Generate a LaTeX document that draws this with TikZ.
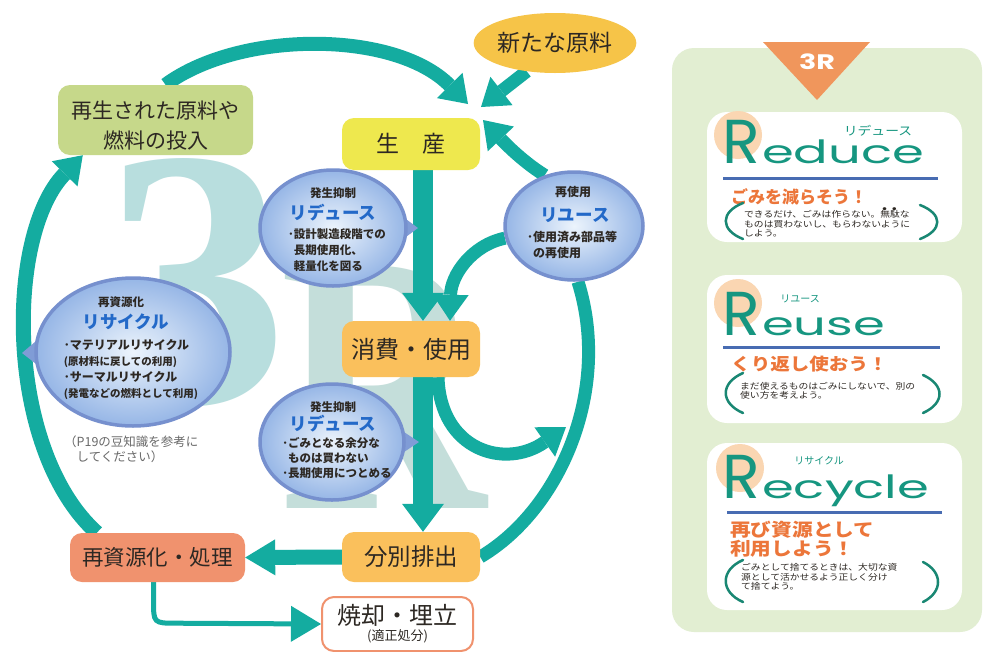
\documentclass[tikz,border=0pt]{standalone}
\usepackage{fontspec}
\setmainfont{Noto Sans CJK JP}
\newfontfamily\jpwide[FakeStretch=1.15]{Noto Sans CJK JP}
\newfontfamily\latw[FakeStretch=1.6]{Poppins}
\newfontfamily\latR{Poppins}
\newfontfamily\serifb{Liberation Serif}
\usetikzlibrary{arrows.meta,shapes.geometric,calc}
\pgfdeclarelayer{back}
\pgfdeclarelayer{bg}
\pgfsetlayers{back,bg,main}
\newcommand\fsz[2]{\fontsize{#1}{#2}\selectfont}
\newcommand\boutenjp[1]{\leavevmode\makebox[0pt][l]{\makebox[1em][c]{\raisebox{0.9em}[0pt][0pt]{\fontsize{3.5}{4}\selectfont ●}}}#1}
\definecolor{teal1}{RGB}{20,172,160}
\definecolor{cgreen}{RGB}{198,216,138}
\definecolor{cyellow}{RGB}{238,232,78}
\definecolor{clorange}{RGB}{250,192,92}
\definecolor{csalmon}{RGB}{240,146,110}
\definecolor{corange}{RGB}{246,196,72}
\definecolor{txt}{RGB}{45,40,35}
\definecolor{bedge}{RGB}{118,144,206}
\definecolor{bin}{RGB}{236,244,252}
\definecolor{bout}{RGB}{150,182,230}
\definecolor{bptr}{RGB}{128,156,214}
\definecolor{btitle}{RGB}{35,105,200}
\definecolor{panel}{RGB}{226,238,210}
\definecolor{torange}{RGB}{240,150,92}
\definecolor{peach}{RGB}{250,214,178}
\definecolor{rteal}{RGB}{22,150,128}
\definecolor{bline}{RGB}{72,108,178}
\definecolor{otext}{RGB}{236,118,58}
\definecolor{pteal}{RGB}{25,135,115}
\definecolor{wmc}{RGB}{184,222,222}
\definecolor{wmr}{RGB}{196,222,218}
\definecolor{note}{RGB}{105,105,105}
\begin{document}
\begin{tikzpicture}[x=1pt,y=1pt,
  box/.style={rounded corners=12pt, inner sep=0pt, align=center, text=txt},
  bubble/.style={ellipse, draw=bedge, line width=3.5pt, inner color=bin, outer color=bout, inner sep=0pt},
  bsmall/.style={font=\fsz{11.5}{12}\bfseries, text=txt, inner sep=0pt},
  bbig/.style={font=\fsz{17.5}{18}\bfseries, text=btitle, inner sep=0pt},
  bbody/.style={font=\fsz{11.5}{16}\bfseries, text=txt, align=left, inner sep=0pt},
  flow/.style={draw=teal1, line width=20pt, -{Triangle[length=28pt,width=42pt,line width=0pt]}},
  side/.style={draw=teal1, line width=15pt, -{Triangle[length=30pt,width=36pt,line width=0pt]}},
  curv/.style={draw=teal1, line width=14pt, -{Triangle[length=26pt,width=36pt,line width=0pt]}},
  thinarr/.style={draw=teal1, line width=5pt, -{Triangle[length=30pt,width=36pt,line width=0pt]}},
  wm/.style={font=\serifb\bfseries\fsz{370}{370}, inner sep=0pt},
  card/.style={fill=white, rounded corners=20pt, minimum width=255pt, inner sep=0pt},
  bigR/.style={font=\latR\fsz{62}{62}, text=rteal, inner sep=0pt, anchor=base west},
  restword/.style={font=\latw\fsz{32}{32}, text=rteal, inner sep=0pt, anchor=base west},
  kana/.style={text=rteal, inner sep=0pt},
  head/.style={text=otext, inner sep=0pt, anchor=west, align=left},
  cbody/.style={font=\jpwide\fsz{8.5}{9.4}, text=txt, inner sep=0pt, anchor=west, align=left},
  paren/.style={draw=pteal, line width=2.5pt, line cap=round},
  sep/.style={draw=bline, line width=3pt}
]
\useasboundingbox (0,0) rectangle (984,-651);

% ---------- background and watermark ----------
\begin{pgfonlayer}{back}
\fill[white] (0,0) rectangle (984,-651);
\node[wm, text=wmc, anchor=south west] (w3) at (103,-407) {3};
\node[wm, text=wmr, anchor=south west] (wR) at (280,-509) {\scalebox{0.77}[1]{R}};
\end{pgfonlayer}

% ---------- boxes ----------
\node[box, fill=cgreen, minimum width=195pt, minimum height=70pt] (inp) at (155.5,-120) {};
\node[font=\fsz{21}{30}, text=txt, align=center, inner sep=0pt] (inpt) at (155.5,-126) {再生された原料や\\燃料の投入};
\node[ellipse, fill=corange, minimum width=136pt, minimum height=60pt, inner sep=0pt, font=\fsz{23}{23}, text=txt] (newm) at (555,-43) {新たな原料};
\node[box, fill=cyellow, minimum width=138pt, minimum height=52pt, font=\fsz{23}{23}] (prod) at (411,-144) {生　産};
\node[box, fill=clorange, minimum width=138pt, minimum height=56pt, font=\fsz{24}{24}] (cons) at (411,-349) {消費・使用};
\node[box, fill=clorange, minimum width=138pt, minimum height=50pt, font=\fsz{23.5}{24}] (sort) at (411,-557) {分別排出};
\node[box, fill=csalmon, minimum width=175pt, minimum height=49pt, font=\fsz{21.5}{22}] (recy) at (157.5,-557.5) {再資源化・処理};
\node[box, fill=white, draw=csalmon, line width=2pt, minimum width=151pt, minimum height=54pt] (inc) at (397.5,-624) {{\fsz{24}{26}焼却・埋立}\\[2pt]{\fsz{13}{15}(適正処分)}};

% ---------- bubbles ----------
\node[bubble, minimum width=146pt, minimum height=116pt] (rd1) at (333,-228) {};
\node[bsmall] (rd1a) at (333,-193) {発生抑制};
\node[bbig] (rd1b) at (333,-213) {リデュース};
\node[bbody] (rd1c) at (337,-250) {･設計製造段階での\\\hphantom{･}長期使用化、\\\hphantom{･}軽量化を図る};

\node[bubble, minimum width=138pt, minimum height=108pt] (ru) at (574,-226) {};
\node[bsmall, font=\fsz{12}{12}\bfseries] (rua) at (573,-192) {再使用};
\node[bbig] (rub) at (575,-215) {リユース};
\node[bbody, font=\fsz{12}{16}\bfseries] (ruc) at (572,-245) {･使用済み部品等\\\hphantom{･}の再使用};

\node[bubble, minimum width=194pt, minimum height=148pt] (rc) at (133,-352) {};
\node[bsmall] (rca) at (121,-302) {再資源化};
\node[bbig] (rcb) at (126,-322) {リサイクル};
\node[bbody, font=\fsz{12}{15.7}\bfseries] (rcc) at (131,-369.5) {･マテリアルリサイクル\\{\fsz{10.5}{15.7}(原材料に戻しての利用)}\\･サーマルリサイクル\\{\fsz{10.5}{15.7}(発電などの燃料として利用)}};

\node[bubble, minimum width=144pt, minimum height=116pt] (rd2) at (332,-442) {};
\node[bsmall] (rd2a) at (333,-407) {発生抑制};
\node[bbig] (rd2b) at (333,-424) {リデュース};
\node[bbody, font=\fsz{11.5}{15}\bfseries] (rd2c) at (337,-458) {･ごみとなる余分な\\\hphantom{･}ものは買わない\\･長期使用につとめる};

\node[font=\fsz{12.5}{15}, text=note, align=left, inner sep=0pt, anchor=west] (hint) at (64,-449) {（P19の豆知識を参考に\\\hphantom{（}してください）};

% ---------- connectors ----------
\coordinate (tipA) at (468,-104);
\coordinate (tipB) at (481,-107);
\coordinate (tipC) at (483,-120);
\coordinate (tipD) at (566,-427);
\begin{pgfonlayer}{bg}
\draw[curv] ([xshift=10pt]inp.north) .. controls (240,-30) and (395,-30) .. (tipA);
\draw[curv, line width=13pt] (newm.225) -- (tipB);
\draw[curv, line width=13pt] (ru.120) .. controls (520,-160) and (500,-138) .. (tipC);
\draw[curv, line width=15pt] ([xshift=27pt]recy.north west) .. controls (5,-450) and (5,-235) .. ([xshift=25pt]inp.south west);
\draw[draw=teal1, line width=13pt] (sort.east) .. controls (560,-510) and (612,-390) .. ([xshift=4pt]ru.south);
\draw[curv, line width=13pt] (ru.190) .. controls (472,-245) and (451,-275) .. ([xshift=39pt]cons.north);
\draw[curv, line width=13pt] ([xshift=27pt]cons.south) .. controls (440,-450) and (505,-470) .. (tipD);
\draw[flow] ([xshift=12pt]prod.south) -- ([xshift=12pt]cons.north);
\draw[flow] ([xshift=12pt]cons.south) -- ([xshift=12pt]sort.north);
\draw[side] (sort.west) -- (recy.east);
\draw[thinarr] ([xshift=-4pt]recy.south) -- ++(0,-18) .. controls ++(0,-23) .. ++(23,-23) -- (inc.west);
% bubble pointers
\fill[bptr] ($(rd1.center)+(58,20)$) -- (418,-228) -- ($(rd1.center)+(58,-20)$) -- cycle;
\fill[bptr] ($(rd2.center)+(57,20)$) -- (419,-442) -- ($(rd2.center)+(57,-20)$) -- cycle;
\fill[bptr] ($(rc.center)+(-84,22)$) -- (22,-353) -- ($(rc.center)+(-84,-22)$) -- cycle;
\end{pgfonlayer}

% ---------- right panel ----------
\fill[panel, rounded corners=22pt] (672,-48) rectangle (982,-632);
\fill[torange] (763,-42) -- (870,-42) -- (817,-100) -- cycle;
\node[font=\latw\bfseries\fsz{21}{21}, text=white, inner sep=0pt] (t3r) at (817,-62) {\scalebox{0.85}[1]{3R}};

% Reduce card
\node[card, minimum height=130pt] (c1) at (834.5,-177) {};
\fill[peach] (738,-135) circle (24);
\node[bigR] (c1R) at (722,-163) {R};
\node[restword] (c1w) at (762,-163) {educe};
\node[kana, font=\jpwide\fsz{12}{12}] (c1k) at (878,-131) {リデュース};
\draw[sep] (723,-178) -- (938,-178);
\node[head, font=\fsz{17}{18}\bfseries] (c1h) at (731,-197) {ごみを減らそう！};
\node[cbody] (c1b) at (744,-224) {できるだけ、ごみは作らない。\boutenjp{無}\boutenjp{駄}な\\ものは買わないし、もらわないように\\しよう。};
\draw[paren] (743,-203) .. controls (720,-212) and (720,-230) .. (743,-239);
\draw[paren] (920,-205) .. controls (943,-214) and (943,-230) .. (920,-239);

% Reuse card
\node[card, minimum height=148pt] (c2) at (834.5,-349) {};
\fill[peach] (738,-303) circle (24);
\node[bigR] (c2R) at (722,-335) {R};
\node[restword] (c2w) at (762,-335) {euse};
\node[kana, font=\fsz{10}{10}] (c2k) at (800,-299) {リユース};
\draw[sep] (723,-347) -- (940,-347);
\node[head, font=\jpwide\fsz{17}{18}\bfseries] (c2h) at (731,-364) {くり返し使おう！};
\node[cbody] (c2b) at (740,-390.5) {まだ使えるものはごみにしないで、別の\\使い方を考えよう。};
\draw[paren] (743,-373) .. controls (720,-383) and (720,-403) .. (743,-413);
\draw[paren] (923,-375) .. controls (945,-385) and (945,-403) .. (923,-413);

% Recycle card
\node[card, minimum height=167pt] (c3) at (834.5,-526.5) {};
\fill[peach] (740,-468) circle (24);
\node[bigR] (c3R) at (722,-498) {R};
\node[restword] (c3w) at (762,-498) {ecycle};
\node[kana, font=\fsz{10}{10}] (c3k) at (819,-461) {リサイクル};
\draw[sep] (727,-512) -- (942,-512);
\node[head, font=\jpwide\fsz{18}{18.5}\bfseries] (c3h) at (730,-539) {再び資源として\\利用しよう！};
\node[cbody] (c3b) at (741,-577) {ごみとして捨てるときは、大切な資\\源として活かせるよう正しく分け\\て捨てよう。};
\draw[paren] (743,-560) .. controls (720,-570) and (720,-592) .. (743,-602);
\draw[paren] (923,-562) .. controls (943,-572) and (943,-592) .. (923,-602);
\end{tikzpicture}
\end{document}
